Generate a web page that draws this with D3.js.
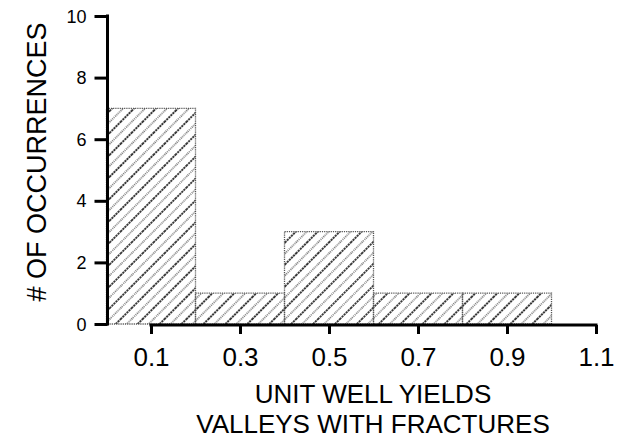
<!DOCTYPE html>
<html>
<head>
<meta charset="utf-8">
<script src="https://cdn.jsdelivr.net/npm/d3@7"></script>
<style>
  html, body { margin: 0; padding: 0; background: #fff; }
  svg { display: block; }
  text { font-family: "Liberation Sans", Arial, Helvetica, sans-serif; fill: #000; }
</style>
</head>
<body>
<svg id="chart" width="633" height="444"></svg>
<script>
// Data: histogram bins of unit well yields and their counts
const binStarts = [0.0, 0.2, 0.4, 0.6, 0.8];
const binEnds   = [0.2, 0.4, 0.6, 0.8, 1.0];
const counts    = [7, 1, 3, 1, 1];
const xTicks    = [0.1, 0.3, 0.5, 0.7, 0.9, 1.1];
const yTicks    = [0, 2, 4, 6, 8, 10];
const yLabel    = "# OF OCCURRENCES";
const xLabel1   = "UNIT WELL YIELDS";
const xLabel2   = "VALLEYS WITH FRACTURES";

const svg = d3.select("#chart");

const x = d3.scaleLinear().domain([0, 1.1]).range([106.5, 596]);
const y = d3.scaleLinear().domain([0, 10]).range([324, 16]);

// hatch pattern
const P = 15.5;
const defs = svg.append("defs");
const pat = defs.append("pattern")
  .attr("id", "hatch")
  .attr("patternUnits", "userSpaceOnUse")
  .attr("width", P)
  .attr("height", P)
  .attr("patternTransform", "rotate(45)");
pat.append("line")
  .attr("x1", 1).attr("y1", 0).attr("x2", 1).attr("y2", P)
  .attr("stroke", "#000").attr("stroke-width", 1.5)
  .attr("stroke-dasharray", "2.2,0.7");
pat.append("line")
  .attr("x1", 1 + P / 2).attr("y1", 0).attr("x2", 1 + P / 2).attr("y2", P)
  .attr("stroke", "#7d7d7d").attr("stroke-width", 1.8)
  .attr("stroke-dasharray", "1,0.9");

const data = binStarts.map((s, i) => ({ s, e: binEnds[i], c: counts[i] }));

// bars
svg.append("g").selectAll("rect").data(data).join("rect")
  .attr("x", d => x(d.s))
  .attr("y", d => y(d.c))
  .attr("width", d => x(d.e) - x(d.s))
  .attr("height", d => y(0) - y(d.c))
  .attr("fill", "url(#hatch)")
  .attr("stroke", "#555")
  .attr("stroke-width", 1.3)
  .attr("stroke-dasharray", "1.2,1");

// y axis
const yAxis = d3.axisLeft(y).tickValues(yTicks).tickSize(13).tickPadding(8).tickFormat(d3.format("d"));
const gy = svg.append("g").attr("transform", "translate(107.5,0)").call(yAxis);
gy.select(".domain").attr("d", `M0,${y(10)-1.5}V${y(0)+1.5}`).attr("stroke", "#000").attr("stroke-width", 3);
gy.selectAll(".tick line").attr("stroke", "#000").attr("stroke-width", 3);
gy.selectAll(".tick text").attr("font-size", 18).attr("dy", "0.34em")
  .style("font-family", "'Liberation Sans', Arial, sans-serif");

// x axis (starts at first tick)
const xAxis = d3.axisBottom(x).tickValues(xTicks).tickSize(9).tickPadding(14).tickFormat(d3.format(".1f"));
const gx = svg.append("g").attr("transform", "translate(0,325)").call(xAxis);
gx.select(".domain").attr("d", `M${x(0.1)-1.5},0H${x(1.1)+1.5}`).attr("stroke", "#000").attr("stroke-width", 3);
gx.selectAll(".tick line").attr("stroke", "#000").attr("stroke-width", 3);
gx.selectAll(".tick text").attr("font-size", 26).attr("dy", "0.71em")
  .style("font-family", "'Liberation Sans', Arial, sans-serif");

// axis titles
svg.append("text")
  .attr("transform", `translate(45.5,162) rotate(-90)`)
  .attr("text-anchor", "middle")
  .attr("font-size", 27)
  .text(yLabel);

svg.append("text")
  .attr("x", 373).attr("y", 403)
  .attr("text-anchor", "middle")
  .attr("font-size", 26)
  .text(xLabel1);
svg.append("text")
  .attr("x", 373).attr("y", 433)
  .attr("text-anchor", "middle")
  .attr("font-size", 26)
  .text(xLabel2);
</script>
</body>
</html>
